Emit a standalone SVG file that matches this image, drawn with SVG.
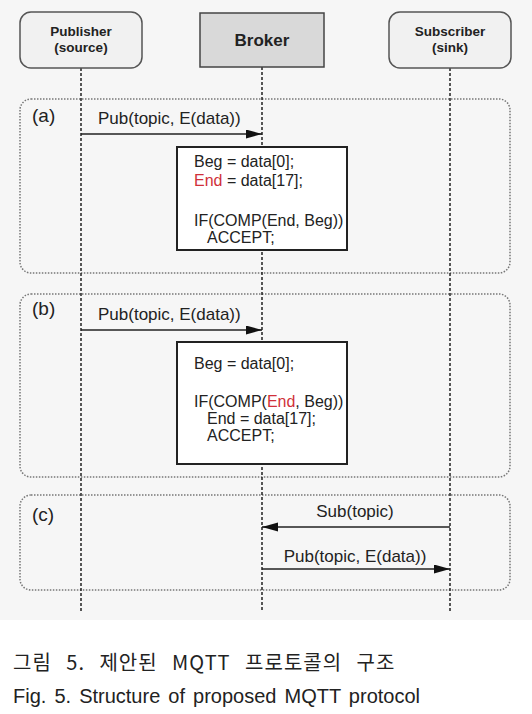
<svg xmlns="http://www.w3.org/2000/svg" width="532" height="714" viewBox="0 0 532 714">
<style>
.bg{fill:#f6f6f6}
.frame{fill:none;stroke:#777;stroke-width:1.5;stroke-dasharray:1.5 1.5}
.life{stroke:#222;stroke-width:1.5;stroke-dasharray:3 2;fill:none}
.msg{stroke:#222;stroke-width:1.6;fill:none;marker-end:url(#ah)}
.actor{fill:#f1f1f1;stroke:#555;stroke-width:1.5}
.broker{fill:#d9d9d9;stroke:#444;stroke-width:1.5}
.proc{fill:#fff;stroke:#222;stroke-width:2}
.nl{font-family:"Liberation Sans",Arial,sans-serif;font-weight:bold;fill:#222;text-anchor:middle}
.lbl{font-family:"Liberation Sans",Arial,sans-serif;font-size:17px;fill:#222}
.code{font-family:"Liberation Sans",Arial,sans-serif;font-size:16px;fill:#222}
.tag{font-family:"Liberation Sans",Arial,sans-serif;font-size:19px;fill:#222}
.red{fill:#d0303a}
.cap{font-size:20px;fill:#222}
</style>
<defs>
<marker id="ah" markerUnits="userSpaceOnUse" markerWidth="17" markerHeight="10" refX="16" refY="4.5" orient="auto">
<path d="M0,0 L16,4.5 L0,9 z" fill="#111"/>
</marker>
</defs>
<rect class="bg" x="0" y="0" width="532" height="620"/>

<g id="frame-a">
<rect class="frame" x="20" y="99" width="490" height="174" rx="11"/>
<text class="tag" x="32" y="122">(a)</text>
</g>
<g id="frame-b">
<rect class="frame" x="20" y="294" width="490" height="183" rx="11"/>
<text class="tag" x="32" y="315">(b)</text>
</g>
<g id="frame-c">
<rect class="frame" x="20" y="495" width="490" height="95" rx="11"/>
<text class="tag" x="32" y="521">(c)</text>
</g>

<g id="connectors">
<line class="life" x1="81" y1="68" x2="81" y2="611"/>
<line class="life" x1="262" y1="67" x2="262" y2="611"/>
<line class="life" x1="450" y1="68" x2="450" y2="611"/>
<line class="msg" x1="81" y1="134" x2="262" y2="134"/>
<text class="lbl" x="98" y="124">Pub(topic, E(data))</text>
<line class="msg" x1="81" y1="330" x2="262" y2="330"/>
<text class="lbl" x="98" y="320">Pub(topic, E(data))</text>
<line class="msg" x1="450" y1="527" x2="262" y2="527"/>
<text class="lbl" x="355" y="517" text-anchor="middle">Sub(topic)</text>
<line class="msg" x1="262" y1="569" x2="450" y2="569"/>
<text class="lbl" x="355" y="562" text-anchor="middle">Pub(topic, E(data))</text>
</g>

<g id="proc-a">
<rect class="proc" x="177" y="147" width="170" height="103"/>
<text class="code" x="194" y="167">Beg = data[0];</text>
<text class="code" x="194" y="186"><tspan class="red">End</tspan> = data[17];</text>
<text class="code" x="194" y="226">IF(COMP(End, Beg))</text>
<text class="code" x="207" y="243">ACCEPT;</text>
</g>
<g id="proc-b">
<rect class="proc" x="177" y="342" width="170" height="122"/>
<text class="code" x="194" y="369">Beg = data[0];</text>
<text class="code" x="194" y="407">IF(COMP(<tspan class="red">End</tspan>, Beg))</text>
<text class="code" x="207" y="424">End = data[17];</text>
<text class="code" x="207" y="441">ACCEPT;</text>
</g>

<g id="publisher">
<rect class="actor" x="20" y="12" width="122" height="56" rx="11"/>
<text class="nl" x="81" y="36" font-size="13.5">Publisher</text>
<text class="nl" x="81" y="52" font-size="13.5">(source)</text>
</g>
<g id="broker">
<rect class="broker" x="200" y="13" width="124" height="54"/>
<text class="nl" x="262" y="46" font-size="17">Broker</text>
</g>
<g id="subscriber">
<rect class="actor" x="389" y="12" width="122" height="56" rx="11"/>
<text class="nl" x="450" y="36" font-size="13.5">Subscriber</text>
<text class="nl" x="450" y="52" font-size="13.5">(sink)</text>
</g>

<g id="caption">
<text class="cap" x="13" y="670" font-family="'Noto Sans CJK KR',sans-serif" letter-spacing="1" word-spacing="9">그림 5. 제안된 MQTT 프로토콜의 구조</text>
<text class="cap" x="13" y="703" font-family="'Liberation Sans',Arial,sans-serif" word-spacing="2.5">Fig. 5. Structure of proposed MQTT protocol</text>
</g>
</svg>
